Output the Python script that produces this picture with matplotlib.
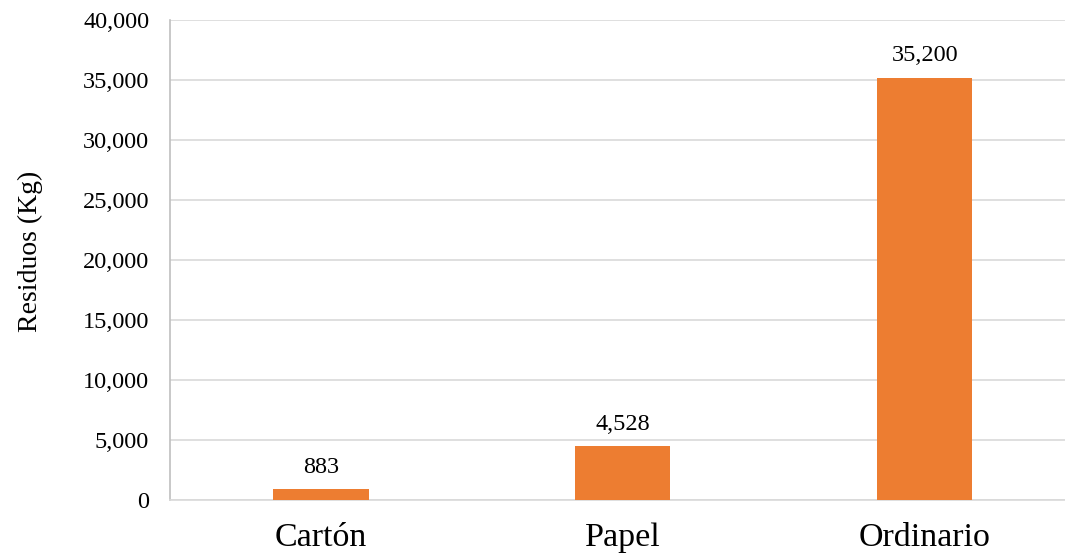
import matplotlib
matplotlib.use("Agg")
import matplotlib.pyplot as plt
from matplotlib.ticker import FuncFormatter

categories = ["Cartón", "Papel", "Ordinario"]
values = [883, 4528, 35200]
yticks = [0, 5000, 10000, 15000, 20000, 25000, 30000, 35000, 40000]

plt.rcParams['font.family'] = ['Liberation Serif', 'DejaVu Serif']

W, H = 1065, 556
fig = plt.figure(figsize=(W / 100, H / 100), dpi=100)
left, right, top, bottom = 170, 1065, 20, 500
ax = fig.add_axes([left / W, 1 - bottom / H, (right - left) / W, (bottom - top) / H])

x = list(range(len(categories)))
bars = ax.bar(x, values, width=0.315, color="#ED7D31", zorder=3)

ax.set_xlim(-0.5, 2.464)
ax.set_ylim(0, 40000)
ax.set_yticks(yticks)
ax.yaxis.set_major_formatter(FuncFormatter(lambda v, p: f"{int(v):,}"))
ax.set_xticks(x)
ax.set_xticklabels(categories, fontsize=24.5)
ax.tick_params(axis='y', labelsize=17.5, length=0, pad=15)
ax.tick_params(axis='x', length=0, pad=16)

ax.grid(axis='y', color="#D9D9D9", linewidth=1.2, zorder=0)
for s in ['top', 'right']:
    ax.spines[s].set_visible(False)
ax.spines['left'].set_color("#BFBFBF")
ax.spines['bottom'].set_color("#D9D9D9")
ax.spines['left'].set_linewidth(1.2)
ax.spines['bottom'].set_linewidth(1.2)

for xi, v in zip(x, values):
    ax.annotate(f"{v:,}", (xi, v), xytext=(0, 8), textcoords="offset points",
                ha="center", va="bottom", fontsize=17.5)

lbl = ax.set_ylabel("Residuos (Kg)", fontsize=20)
lbl.set_verticalalignment('center')
ax.yaxis.set_label_coords((30 - left) / (right - left), (bottom - 251) / (bottom - top))

fig.savefig("out.png", dpi=100)
